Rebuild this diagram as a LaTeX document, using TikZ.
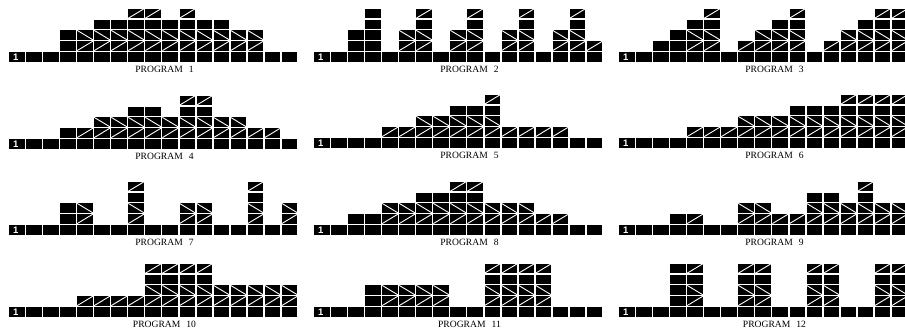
\documentclass[tikz,border=0pt]{standalone}
\usepackage{fontspec}
\setmainfont{Liberation Serif}
\newfontfamily\digitfont{Liberation Sans}
\begin{document}
\begin{tikzpicture}[x=1pt,y=-1pt,
  diag/.style={white,line width=0.9pt},
  proglabel/.style={font=\fontsize{9.6}{10}\selectfont, inner sep=0pt, anchor=center},
  onelabel/.style={font=\digitfont\bfseries\fontsize{9.5}{10}\selectfont, text=white, inner sep=0pt}]
\useasboundingbox (0,0) rectangle (905,328);
\fill[white] (0,0) rectangle (905,328);
\clip (0,0) rectangle (905,328);
\def\cw{15.6}
\def\ch{9.4}
\def\panel#1#2#3#4{%
  \foreach \cc in {0,...,16} { \fill ({#1+17.05*\cc},#2) rectangle ++(\cw,9.8); }
  \node[onelabel] (one#3) at ({#1+6.8},{#2+4.9}) {1};
  \node[proglabel] (prog#3) at ({#1+155.5},{#2+17}) {PROGRAM\hspace{6pt}#3};
  \foreach \cc/\codes in {#4} {
    \foreach \tp [count=\rr] in \codes {
      \pgfmathsetmacro\xx{#1+17.05*\cc}
      \pgfmathsetmacro\yy{#2-10.8*\rr}
      \fill (\xx,\yy) rectangle ++(\cw,\ch);
      \if S\tp \draw[diag] (\xx,{\yy+\ch}) -- ({\xx+\cw},\yy); \fi
      \if B\tp \draw[diag] (\xx,\yy) -- ({\xx+\cw},{\yy+\ch}); \fi
    }
  }
}
% row A
\panel{9}{52}{1}{3/{P,P},4/{S,B},5/{S,B,P},6/{S,B,P},7/{S,B,P,S},8/{S,B,P,S},9/{S,B,P},10/{S,B,P,S},11/{S,B,P},12/{S,B,P},13/{S,B},14/{S,B}}
\panel{314}{52}{2}{2/{P,P},3/{P,P,P,P},5/{S,B},6/{S,B,P,S},8/{S,B},9/{S,B,P,S},11/{S,B},12/{S,B,P,S},14/{S,B},15/{S,B,P,S},16/{S}}
\panel{619}{52}{3}{2/{P},3/{P,P},4/{S,B,P},5/{S,B,P,S},7/{S},8/{S,B},9/{S,B,P},10/{S,B,P,S},12/{S},13/{S,B},14/{S,B,P},15/{S,B,P,S},16/{S,B,P,S}}
% row B
\panel{9}{139}{4}{3/{P},4/{S},5/{S,B},6/{S,B},7/{S,B,P},8/{S,B,P},9/{S,B},10/{S,B,P,S},11/{S,B,P,S},12/{S,B},13/{S,B},14/{S},15/{S}}
\panel{314}{138}{5}{4/{S},5/{S},6/{S,B},7/{S,B},8/{S,B,P},9/{S,B,P},10/{S,B,P,S},11/{S},12/{S},13/{S},14/{S}}
\panel{619}{138}{6}{4/{S},5/{S},6/{S},7/{S,B},8/{S,B},9/{S,B},10/{S,B,P},11/{S,B,P},12/{S,B,P},13/{S,B,P,S},14/{S,B,P,S},15/{S,B,P,S},16/{S,B,P,S}}
% row C
\panel{9}{225}{7}{3/{P,P},4/{S,B},7/{S,B,P,S},10/{S,B},11/{S,B},14/{S,B,P,S},16/{S,B}}
\panel{314}{225}{8}{2/{P},3/{P},4/{S,B},5/{S,B},6/{S,B,P},7/{S,B,P},8/{S,B,P,S},9/{S,B,P,S},10/{S,B},11/{S,B},12/{S,B},13/{S},14/{S}}
\panel{619}{225}{9}{3/{P},4/{S},7/{S,B},8/{S,B},9/{S},10/{S},11/{S,B,P},12/{S,B,P},13/{S,B},14/{S,B,P,S},15/{S,B},16/{S,B}}
% row D
\panel{9}{307}{10}{4/{S},5/{S},6/{S},7/{S},8/{S,B,P,S},9/{S,B,P,S},10/{S,B,P,S},11/{S,B,P,S},12/{S,B},13/{S,B},14/{S,B},15/{S,B},16/{S,B}}
\panel{314}{307}{11}{3/{P,P},4/{S,B},5/{S,B},6/{S,B},7/{S,B},10/{S,B,P,S},11/{S,B,P,S},12/{S,B,P,S},13/{S,B,P,S}}
\panel{619}{307}{12}{3/{P,P,P,P},4/{S,B,P,S},7/{S,B,P,S},8/{S,B,P,S},11/{S,B,P,S},12/{S,B,P,S},15/{S,B,P,S},16/{S,B,P,S}}
\end{tikzpicture}
\end{document}
